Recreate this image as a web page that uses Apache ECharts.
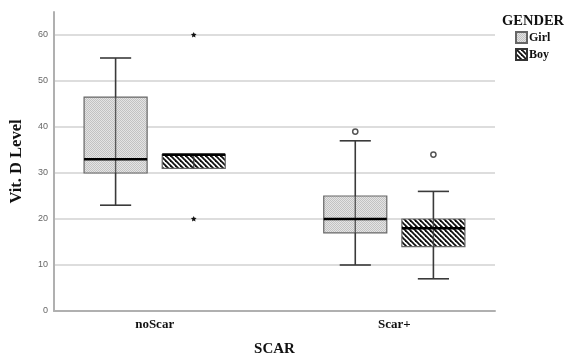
<!DOCTYPE html>
<html>
<head>
<meta charset="utf-8">
<script src="https://cdn.jsdelivr.net/npm/echarts@6/dist/echarts.min.js"></script>
<style>
html, body { margin: 0; padding: 0; background: #fff; }
#main { width: 564px; height: 362px; }
</style>
</head>
<body>
<div id="main"></div>
<script>
// 数据
const categories = ['noScar', 'Scar+'];
const groups = ['Girl', 'Boy'];
// [min, Q1, median, Q3, max] per category
const girlBox = [[23, 30, 33, 46.5, 55], [10, 17, 20, 25, 37]];
const boyBox = [[31, 31, 34, 34, 34], [7, 14, 18, 20, 26]];
// outliers: [category index, value]
const girlOutliers = [[1, 39]];
const boyOutliers = [[1, 34]];
const boyExtremes = [[0, 60], [0, 20]];
const yTicks = [0, 10, 20, 30, 40, 50, 60];

const serif = 'Liberation Serif';
const BOX_W = 0.263;
const CAP_W = 0.13;
const OFFSET = 0.163;

// 填充纹理
function dotPattern() {
    const c = document.createElement('canvas');
    c.width = 2; c.height = 2;
    const g = c.getContext('2d');
    g.fillStyle = '#e4e4e4'; g.fillRect(0, 0, 2, 2);
    g.fillStyle = '#c2c2c2'; g.fillRect(0, 0, 1, 1); g.fillRect(1, 1, 1, 1);
    return { image: c, repeat: 'repeat' };
}
function stripePattern() {
    const c = document.createElement('canvas');
    c.width = 5; c.height = 5;
    const g = c.getContext('2d');
    g.fillStyle = '#fff'; g.fillRect(0, 0, 5, 5);
    g.strokeStyle = '#111'; g.lineWidth = 1.8;
    [-5, 0, 5].forEach(function (d) {
        g.beginPath(); g.moveTo(d - 1, -1); g.lineTo(d + 6, 6); g.stroke();
    });
    return { image: c, repeat: 'repeat' };
}
const girlFill = dotPattern();
const boyFill = stripePattern();

function toRows(boxes) {
    return boxes.map(function (b, i) { return [i + 1].concat(b); });
}

function boxRender(offset, fill) {
    return function (params, api) {
        const x = api.value(0) + offset;
        const pMin = api.coord([x, api.value(1)]);
        const pQ1 = api.coord([x, api.value(2)]);
        const pMed = api.coord([x, api.value(3)]);
        const pQ3 = api.coord([x, api.value(4)]);
        const pMax = api.coord([x, api.value(5)]);
        const hw = api.size([BOX_W, 0])[0] / 2;
        const cw = api.size([CAP_W, 0])[0] / 2;
        const cx = pMed[0];
        const lineStyle = { stroke: '#3a3a3a', lineWidth: 1.6 };
        const children = [
            { type: 'rect', shape: { x: cx - hw, y: pQ3[1], width: hw * 2, height: pQ1[1] - pQ3[1] },
              style: { fill: fill, stroke: '#666', lineWidth: 1.2 } }
        ];
        if (pMax[1] < pQ3[1]) {
            children.push({ type: 'line', shape: { x1: cx, y1: pMax[1], x2: cx, y2: pQ3[1] }, style: lineStyle });
            children.push({ type: 'line', shape: { x1: cx - cw, y1: pMax[1], x2: cx + cw, y2: pMax[1] }, style: lineStyle });
        }
        if (pMin[1] > pQ1[1]) {
            children.push({ type: 'line', shape: { x1: cx, y1: pQ1[1], x2: cx, y2: pMin[1] }, style: lineStyle });
            children.push({ type: 'line', shape: { x1: cx - cw, y1: pMin[1], x2: cx + cw, y2: pMin[1] }, style: lineStyle });
        }
        children.push({ type: 'line', shape: { x1: cx, y1: pQ3[1], x2: cx, y2: pQ1[1] }, style: { stroke: '#3a3a3a', lineWidth: 1.4, opacity: 0.8 } });
        children.push({ type: 'line', shape: { x1: cx - hw, y1: pMed[1], x2: cx + hw, y2: pMed[1] }, style: { stroke: '#000', lineWidth: 2.6 } });
        return { type: 'group', children: children };
    };
}

function outlierRender(offset, kind) {
    return function (params, api) {
        const p = api.coord([api.value(0) + 1 + offset, api.value(1)]);
        if (kind === 'circle') {
            return { type: 'circle', shape: { cx: p[0], cy: p[1], r: 2.6 },
                     style: { fill: '#fff', stroke: '#555', lineWidth: 1.5 } };
        }
        const pts = [];
        for (let k = 0; k < 10; k++) {
            const r = k % 2 === 0 ? 3.0 : 1.4;
            const a = -Math.PI / 2 + k * Math.PI / 5;
            pts.push([p[0] + r * Math.cos(a), p[1] + r * Math.sin(a)]);
        }
        return { type: 'polygon', shape: { points: pts }, style: { fill: '#111' } };
    };
}

const option = {
    animation: false,
    backgroundColor: '#fff',
    title: {
        text: 'GENDER',
        left: 497,
        top: 9,
        textStyle: { fontFamily: serif, fontWeight: 'bold', fontSize: 14.5, color: '#111' }
    },
    legend: {
        data: groups,
        orient: 'vertical',
        left: 515,
        top: 31,
        padding: 0,
        itemWidth: 11,
        itemHeight: 11,
        itemGap: 4,
        icon: 'rect',
        textStyle: { fontFamily: serif, fontWeight: 'bold', fontSize: 12, color: '#111', padding: [0, 0, 0, -3] }
    },
    grid: { left: 48, right: 69, top: 12, bottom: 47.5 },
    xAxis: {
        type: 'value',
        min: 0.58,
        max: 2.42,
        name: 'SCAR',
        nameLocation: 'middle',
        nameGap: 31,
        nameTextStyle: { fontFamily: serif, fontWeight: 'bold', fontSize: 15, color: '#111' },
        axisLine: { show: true, onZero: false, lineStyle: { color: '#b0b0b0', width: 2 } },
        axisTick: { show: false },
        splitLine: { show: false },
        axisLabel: {
            customValues: [1, 2],
            formatter: function (v) { return categories[Math.round(v) - 1]; },
            margin: 7,
            fontFamily: serif, fontWeight: 'bold', fontSize: 13, color: '#111'
        }
    },
    yAxis: {
        type: 'value',
        min: 0,
        max: 65,
        interval: 10,
        name: 'Vit. D Level',
        nameLocation: 'middle',
        nameGap: 29,
        nameTextStyle: { fontFamily: serif, fontWeight: 'bold', fontSize: 16.5, color: '#111' },
        axisLine: { show: true, lineStyle: { color: '#b0b0b0', width: 2 } },
        axisTick: { show: false },
        axisLabel: {
            customValues: yTicks,
            margin: 6,
            fontFamily: 'Liberation Sans', fontSize: 9, color: '#666'
        },
        splitLine: { show: true, showMaxLine: false, showMinLine: false, lineStyle: { color: '#d2d2d2', width: 1.6 } }
    },
    series: [
        {
            name: 'Girl', type: 'custom',
            renderItem: boxRender(-OFFSET, girlFill),
            itemStyle: { color: girlFill, borderColor: '#666', borderWidth: 1 },
            encode: { x: 0, y: [1, 2, 3, 4, 5] },
            data: toRows(girlBox),
            z: 3
        },
        {
            name: 'Boy', type: 'custom',
            renderItem: boxRender(OFFSET, boyFill),
            itemStyle: { color: boyFill, borderColor: '#333', borderWidth: 1 },
            encode: { x: 0, y: [1, 2, 3, 4, 5] },
            data: toRows(boyBox),
            z: 3
        },
        {
            name: 'Girl outliers', type: 'custom',
            renderItem: outlierRender(-OFFSET, 'circle'),
            encode: { x: 0, y: 1 },
            data: girlOutliers,
            z: 4
        },
        {
            name: 'Boy outliers', type: 'custom',
            renderItem: outlierRender(OFFSET, 'circle'),
            encode: { x: 0, y: 1 },
            data: boyOutliers,
            z: 4
        },
        {
            name: 'Boy extremes', type: 'custom',
            renderItem: outlierRender(OFFSET, 'star'),
            encode: { x: 0, y: 1 },
            data: boyExtremes,
            z: 4
        }
    ]
};

const myChart = echarts.init(document.getElementById('main'));
myChart.setOption(option);
</script>
</body>
</html>
